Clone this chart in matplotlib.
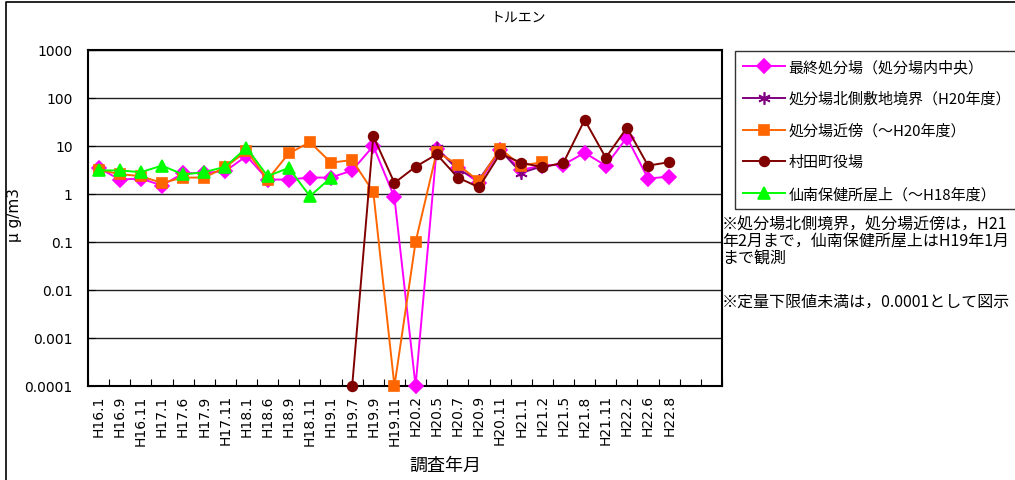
#!/usr/bin/env python3
"""Toluene monitoring chart (log scale) rebuilt from the reference picture."""

import numpy as np
import matplotlib
matplotlib.use("Agg")
import matplotlib.pyplot as plt
from matplotlib.lines import Line2D

plt.rcParams["font.family"] = ["Noto Sans CJK JP", "DejaVu Sans"]

LABELS = ["H16.1", "H16.9", "H16.11", "H17.1", "H17.6", "H17.9", "H17.11",
          "H18.1", "H18.6", "H18.9", "H18.11", "H19.1", "H19.7", "H19.9",
          "H19.11", "H20.2", "H20.5", "H20.7", "H20.9", "H20.11", "H21.1",
          "H21.2", "H21.5", "H21.8", "H21.11", "H22.2", "H22.6", "H22.8"]
N_SLOTS = 30  # two empty category slots after H22.8

# None = not observed
final_site = [3.5, 2.0, 2.1, 1.5, 2.7, 2.75, 3.0, 6.2, 2.0, 2.0, 2.2, 2.2,
              3.1, 10, 0.85, 0.0001, 8.8, 3.5, 1.7, 8.1, 3.2, 3.9, 4.1,
              7.2, 3.9, 15, 2.1, 2.3]
north_border = [None] * 16 + [9.0, 3.2, 2.0, 8.3, 2.75, 3.8] + [None] * 6
near_site = [3.2, 2.6, 2.35, 1.7, 2.2, 2.2, 3.6, 7.9, 2.0, 7.0, 12, 4.5,
             5.1, 1.1, 0.0001, 0.1, 7.5, 4.1, 1.85, 8.8, 3.9, 4.6] + [None] * 6
town_office = [None] * 12 + [0.0001, 16, 1.7, 3.7, 6.7, 2.2, 1.38, 6.9,
                             4.5, 3.6, 4.5, 35, 5.7, 24, 3.9, 4.6]
health_center = [3.1, 3.1, 2.85, 3.9, 2.55, 2.85, 3.7, 9.2, 2.35, 3.5, 0.9,
                 2.2] + [None] * 16

SERIES = [
    ("最終処分場（処分場内中央）", final_site, "#FF00FF", "D", 7),
    ("処分場北側敷地境界（H20年度）", north_border, "#800080", (6, 2, 0), 9),
    ("処分場近傍（～H20年度）", near_site, "#FF6600", "s", 7),
    ("村田町役場", town_office, "#800000", "o", 7),
    ("仙南保健所屋上（～H18年度）", health_center, "#00FF00", "^", 8),
]


def to_array(vals):
    return np.array([np.nan if v is None else v for v in vals], dtype=float)


fig = plt.figure(figsize=(10.15, 4.81), dpi=100)
ax = fig.add_axes([88 / 1015, 1 - 387 / 481, 634 / 1015, 336 / 481])

x = np.arange(len(LABELS)) + 0.5
handles = []
for name, vals, color, marker, ms in SERIES:
    y = to_array(vals)
    ax.plot(x, y, color=color, lw=1.4, marker=marker, ms=ms,
            mfc=color, mec=color, mew=1.2, clip_on=False, zorder=3)
    handles.append(Line2D([], [], color=color, lw=1.4, marker=marker,
                          ms=ms, mfc=color, mec=color, mew=1.2))

ax.set_yscale("log")
ax.set_ylim(1e-4, 1e3)
ax.set_xlim(0, N_SLOTS)
yt = [1e-4, 1e-3, 1e-2, 1e-1, 1, 10, 100, 1000]
ax.set_yticks(yt)
ax.set_yticklabels(["0.0001", "0.001", "0.01", "0.1", "1", "10", "100", "1000"],
                   fontsize=10, family="DejaVu Sans")
ax.yaxis.set_minor_locator(matplotlib.ticker.NullLocator())
ax.grid(axis="y", color="#222222", lw=1.0)
ax.set_axisbelow(True)

ax.set_xticks(np.arange(N_SLOTS + 1), minor=False)
ax.set_xticklabels([])
ax.set_xticks(x, minor=True)
ax.set_xticklabels(LABELS, minor=True, rotation=90, fontsize=10,
                   family="DejaVu Sans")
ax.tick_params(axis="x", which="minor", length=0, pad=6)
ax.tick_params(axis="x", which="major", direction="in", length=5)
ax.tick_params(axis="y", direction="in", length=5, pad=11)
for sp in ax.spines.values():
    sp.set_linewidth(1.5)
    sp.set_color("black")

fig.text(15 / 1015, 1 - 215 / 481, "μ g/m3", rotation=90, ha="center",
         va="center", fontsize=11, family="DejaVu Sans")
fig.text(445 / 1015, 1 - 466 / 481, "調査年月", ha="center", va="center",
         fontsize=13)

fig.text(518 / 1015, 1 - 18 / 481, "トルエン", ha="center", va="center",
         fontsize=10)

leg = fig.legend(handles, [s[0] for s in SERIES], loc="upper left",
                 bbox_to_anchor=(735 / 1015, 1 - 52 / 481), fontsize=10.8,
                 frameon=True, fancybox=False, edgecolor="black",
                 handlelength=2.8, labelspacing=1.16, borderpad=0.55,
                 handletextpad=0.2, borderaxespad=0)
leg.get_frame().set_linewidth(1.0)

fig.text(722 / 1015, 1 - 217 / 481,
         "※処分場北側境界，処分場近傍は，H21\n年2月まで，仙南保健所屋上はH19年1月\nまで観測",
         ha="left", va="top", fontsize=11.5, linespacing=1.0)
fig.text(722 / 1015, 1 - 302 / 481, "※定量下限値未満は，0.0001として図示",
         ha="left", va="center", fontsize=11.5)

# outer chart border (left and top edges visible in the reference)
fig.add_artist(Line2D([6 / 1015, 6 / 1015, 1], [0, 1 - 3 / 481, 1 - 3 / 481],
                      transform=fig.transFigure, color="black", lw=1.2))

fig.savefig("out.png", dpi=100)
